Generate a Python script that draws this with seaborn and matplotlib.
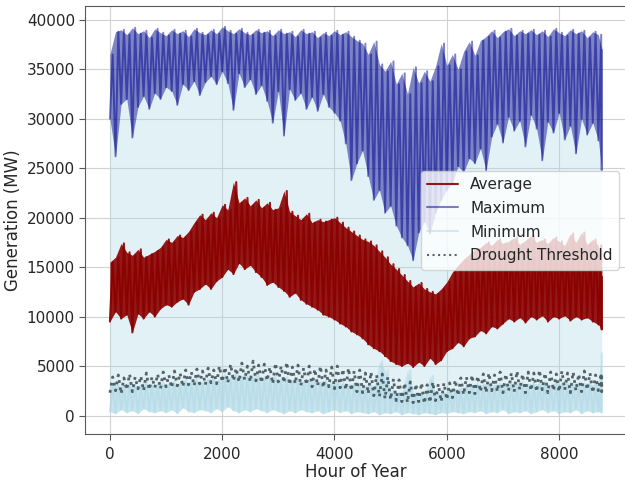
import matplotlib
matplotlib.use("Agg")
import matplotlib.pyplot as plt
import numpy as np
import seaborn as sns

# hour of year, sampled every 100 h
hours = list(range(0, 8800, 100)) + [8759]

# Average generation: troughs / peaks of the daily swing (MW)
avg_hi = [15500, 16000, 17400, 16500, 16200, 16800, 16000, 16300, 16600,
          17000, 17800, 17500, 18200, 18000, 18600, 19500, 20300, 19800,
          20500, 20000, 21300, 20800, 23600, 21500, 22000, 21200, 21800,
          21000, 21500, 20800, 21000, 22700, 20600, 20200, 19800, 20400,
          19500, 19800, 19600, 19800, 20000, 19500, 19000, 18600, 18200,
          17800, 17600, 17200, 16600, 16000, 15300, 14800, 14200, 13600,
          13000, 13400, 12800, 12500, 12300, 12800, 13500, 14500, 15200,
          15800, 16300, 16800, 17000, 17500, 17200, 17800, 17400, 17600,
          18000, 17300, 17700, 18200, 17500, 17800, 17400, 18000, 17600,
          17200, 18400, 17500, 18500, 17300, 17800, 17200, 14000]
avg_lo = [9500, 10500, 9800, 10200, 8400, 10300, 9800, 10500, 10000,
          10800, 11200, 11000, 11500, 11800, 11200, 12500, 12800, 13300,
          12800, 13600, 14000, 14800, 14300, 15400, 14800, 15200, 14500,
          14000, 13200, 13500, 13000, 12600, 12000, 12400, 11700, 11300,
          11000, 10700, 10200, 10000, 9700, 9300, 9000, 8500, 8200,
          7800, 7200, 6800, 6500, 6000, 5500, 5200, 5000, 5300,
          4900, 5400, 5000, 5800, 5200, 5600, 6500, 6800, 7400,
          7000, 7800, 8000, 8600, 8300, 9000, 8800, 9300, 9800,
          9500, 9900, 9400, 10000, 9700, 10100, 9500, 10000, 9800,
          10100, 9600, 10000, 9700, 9900, 9500, 9200, 8700]

# Maximum generation
max_hi = [36500, 38800, 39000, 38500, 39200, 38600, 38900, 38200, 39100,
          38700, 38400, 39000, 38600, 38900, 38300, 39100, 38700, 38500,
          39000, 38600, 39300, 38900, 38600, 39100, 38700, 38500, 39000,
          38700, 38900, 38400, 39000, 38600, 38800, 38300, 39000, 38600,
          38800, 38200, 38700, 38400, 38900, 38500, 38800, 38300, 37900,
          37600, 36500, 37800, 35500, 34800, 35800, 33500, 34600, 32500,
          35200, 33600, 34800, 33800, 35300, 37600, 35400, 36500, 35000,
          36800, 37800, 36400, 37900, 38300, 38900, 38200, 38800, 39100,
          38400, 38900, 38600, 39000, 38500, 38900, 38300, 39100, 38700,
          38400, 39000, 38600, 38900, 38200, 38800, 38500, 37000]
max_lo = [30000, 26200, 31500, 32000, 28100, 31200, 32300, 31000, 32600,
          32000, 33200, 32800, 31400, 33500, 32900, 33800, 32400, 33700,
          34300, 33500, 34800, 33600, 30900, 34600, 33200, 34000, 32500,
          33400, 31800, 29600, 32800, 28300, 33000, 31900, 32600, 31000,
          32200, 30800, 32500, 31200, 30600, 29800, 27500, 23800, 25500,
          26800, 24200, 21800, 22800, 20500, 21200, 19200, 18000, 17200,
          15700, 18500, 19600, 18400, 20500, 21800, 22800, 23500, 25200,
          24600, 26000, 25500, 27000, 24800, 28200, 29500, 27600, 30200,
          28800, 29800, 27200, 30400, 29000, 25800, 29700, 28600, 30600,
          27900, 29300, 26500, 30000, 28400, 29600, 27800, 24800]

# Minimum generation
min_hi = [3000, 3200, 2900, 3300, 3100, 3000, 3400, 3100, 3200,
          3300, 3100, 3500, 3200, 3600, 3400, 3700, 3300, 3600,
          3800, 3500, 4100, 3700, 4300, 3900, 4200, 3800, 4100,
          3900, 3700, 4000, 3600, 3900, 3500, 3700, 3400, 3600,
          3500, 3300, 3600, 3200, 3400, 3300, 3100, 3200, 3000,
          2900, 3100, 2700, 5500, 4600, 2500, 2300, 2400, 4600,
          2200, 2300, 2100, 4000, 2200, 2300, 2400, 2600, 2700,
          2900, 3000, 3200, 3100, 3300, 3000, 3200, 3100, 3300,
          3200, 3400, 3100, 3300, 3200, 3400, 3000, 3300, 3200,
          3400, 3100, 3300, 3200, 3300, 3100, 3500, 6300]
min_lo = [400, 200, 600, 300, 500, 200, 700, 400, 300,
          500, 300, 600, 200, 800, 400, 300, 600, 500,
          300, 700, 400, 900, 500, 300, 600, 400, 700,
          500, 300, 600, 400, 200, 500, 300, 600, 400,
          300, 500, 200, 400, 600, 300, 500, 200, 400,
          300, 200, 400, 100, 300, 200, 400, 100, 300,
          200, 100, 300, 200, 100, 300, 200, 400, 300,
          200, 400, 300, 500, 200, 400, 300, 600, 200,
          400, 300, 500, 200, 400, 600, 300, 500, 200,
          400, 300, 600, 200, 500, 300, 400, 300]

# Drought threshold
thr_hi = [3900, 4100, 3800, 4200, 3900, 4000, 4300, 3900, 4200,
          4400, 4100, 4500, 4300, 4600, 4400, 4700, 4500, 4800,
          4600, 5000, 4900, 5200, 4800, 5300, 5000, 5500, 5100,
          5200, 4900, 5300, 5000, 5400, 4900, 5100, 4800, 5000,
          4700, 5000, 4600, 4900, 5000, 4700, 4800, 4500, 4600,
          4300, 4400, 4100, 4200, 3900, 3700, 3600, 3300, 3400,
          3200, 3300, 3100, 3400, 3200, 3300, 3300, 3600, 3800,
          3900, 4100, 4000, 4200, 4300, 4100, 4400, 4200, 4300,
          4500, 4200, 4400, 4300, 4600, 4300, 4400, 4200, 4500,
          4300, 4400, 4200, 4500, 4300, 4100, 4300, 4000]
thr_lo = [2300, 2500, 2200, 2600, 2400, 2700, 2500, 2600, 2800,
          2700, 2900, 2800, 3000, 2900, 3100, 3000, 3200, 3100,
          3300, 3200, 3400, 3300, 3500, 3400, 3600, 3400, 3500,
          3300, 3500, 3200, 3400, 3300, 3100, 3200, 3000, 3100,
          2900, 3000, 2800, 2900, 2700, 2800, 2600, 2500, 2400,
          2300, 2200, 2000, 1900, 1700, 1600, 1500, 1400, 1300,
          1300, 1400, 1200, 1300, 1500, 1400, 1600, 1800, 2000,
          2100, 2300, 2200, 2400, 2300, 2500, 2400, 2300, 2500,
          2400, 2600, 2300, 2500, 2400, 2600, 2300, 2500, 2400,
          2600, 2300, 2500, 2400, 2600, 2300, 2500, 2400]


def zigzag(lo, hi):
    # trough at each sample hour, peak half a step later
    h = np.array(hours)
    x = np.minimum(np.column_stack([h, h + 50]).ravel(), 8759)
    y = np.column_stack([lo, hi]).ravel()
    return x, y


sns.set_style("ticks", {"axes.grid": True, "grid.color": ".82",
                        "axes.edgecolor": ".35"})

fig = plt.figure(figsize=(6.25, 4.8), dpi=100)
ax = fig.add_axes([85.3 / 625, 45.7 / 480, 541 / 625, 428.3 / 480])

# band between min and max
ax.fill_between(hours, min_lo, max_hi, color="lightblue", alpha=0.35, lw=0)

# Average
ax.fill_between(hours, avg_lo, avg_hi, color="darkred", alpha=0.9, lw=0)
x, y = zigzag(avg_lo, avg_hi)
sns.lineplot(x=x, y=y, estimator=None, sort=False, color="darkred",
             alpha=0.9, lw=1.5, label="Average", ax=ax)

# Maximum
ax.fill_between(hours, max_lo, max_hi, color="darkblue", alpha=0.45, lw=0)
x, y = zigzag(max_lo, max_hi)
sns.lineplot(x=x, y=y, estimator=None, sort=False, color="darkblue",
             alpha=0.5, lw=1.4, label="Maximum", ax=ax)

# Minimum
ax.fill_between(hours, min_lo, min_hi, color="lightblue", alpha=0.5, lw=0)
x, y = zigzag(min_lo, min_hi)
sns.lineplot(x=x, y=y, estimator=None, sort=False, color="lightblue",
             alpha=0.5, lw=1.5, label="Minimum", ax=ax)

# Drought threshold
x, y = zigzag(thr_lo, thr_hi)
sns.lineplot(x=x, y=y, estimator=None, sort=False, color="#3a4a50",
             alpha=0.85, lw=2.0, linestyle=":", label="Drought Threshold", ax=ax)

ax.set_xlim(-438, 9197)
ax.set_ylim(-1900, 41400)
ax.set_xticks([0, 2000, 4000, 6000, 8000])
ax.set_yticks(range(0, 40001, 5000))
ax.tick_params(labelsize=11, length=4, color=".35")
ax.tick_params(axis="x", pad=5)
ax.set_xlabel("Hour of Year", fontsize=12, labelpad=1)
ax.set_ylabel("Generation (MW)", fontsize=12, labelpad=3)
leg = ax.legend(loc="center right", fontsize=11, labelspacing=0.58)
for line in leg.get_lines():
    line.set_linewidth(1.5)

fig.savefig("out.png", dpi=100)
